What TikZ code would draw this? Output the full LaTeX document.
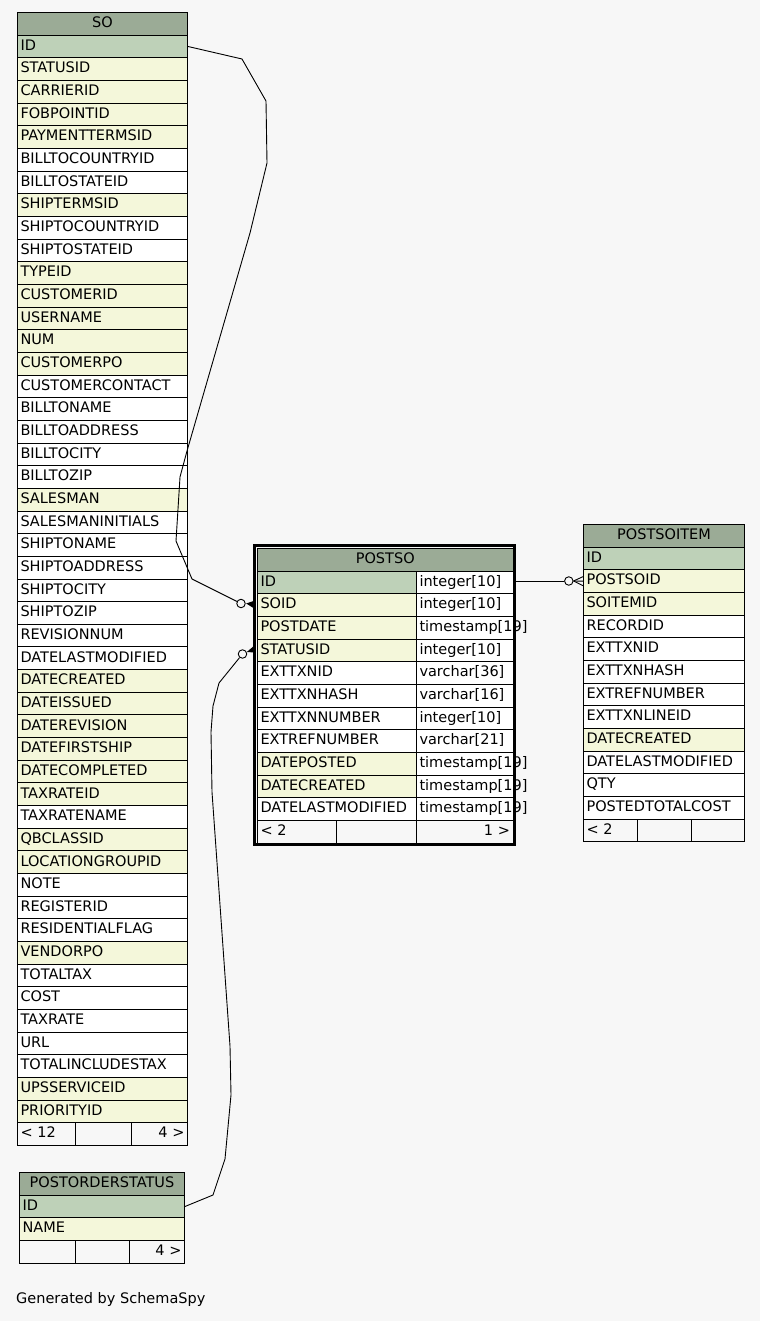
\documentclass[tikz,border=0pt]{standalone}
\usepackage{fontspec}
\usepackage{tikz}
\usetikzlibrary{positioning,arrows.meta,calc}
\newfontfamily\ssfont{DejaVu Sans}
\newcommand{\ssText}{\ssfont\fontsize{14.5}{17}\selectfont}
\definecolor{ssBack}{HTML}{F7F7F7}
\definecolor{ssHead}{HTML}{9BAB96}
\definecolor{ssKey}{HTML}{BED1B8}
\definecolor{ssFk}{HTML}{F4F7DA}
\tikzset{
  sscell/.style={draw=black, line width=1pt, anchor=north west, minimum height=22.66pt,
                 inner xsep=3pt, inner ysep=0pt, text height=10.5pt, text depth=3pt,
                 font=\ssText, align=left},
  sshead/.style={sscell, fill=ssHead, align=center},
  sskey/.style={sscell, fill=ssKey},
  ssfk/.style={sscell, fill=ssFk},
  sscol/.style={sscell, fill=white},
  ssfoot/.style={sscell, fill=ssBack},
  ssrel/.style={draw=black, line width=0.9pt},
  sscirc/.style={circle, draw=black, fill=ssBack, line width=0.9pt, minimum size=8.5pt,
                 inner sep=0pt},
  wso/.style={text width=164pt},
  wpsn/.style={text width=153pt},
  wpst/.style={text width=90.5pt},
  wpi/.style={text width=155pt},
  wpos/.style={text width=159pt},
}

\begin{document}
\begin{tikzpicture}[x=1pt, y=-1pt]
  \fill[ssBack] (0,0) rectangle (760,1321);
  \useasboundingbox (0,0) rectangle (760,1321);

  % SO
  \node[sshead, wso] (so-head) at (17,12) {SO};
  \node[sskey, wso] (so-id) at (17,34.66) {ID};
  \node[ssfk, wso] (so-statusid) at (17,57.32) {STATUSID};
  \node[ssfk, wso] (so-carrierid) at (17,79.98) {CARRIERID};
  \node[ssfk, wso] (so-fobpointid) at (17,102.64) {FOBPOINTID};
  \node[ssfk, wso] (so-paymenttermsid) at (17,125.30) {PAYMENTTERMSID};
  \node[sscol, wso] (so-billtocountryid) at (17,147.96) {BILLTOCOUNTRYID};
  \node[sscol, wso] (so-billtostateid) at (17,170.62) {BILLTOSTATEID};
  \node[ssfk, wso] (so-shiptermsid) at (17,193.28) {SHIPTERMSID};
  \node[sscol, wso] (so-shiptocountryid) at (17,215.94) {SHIPTOCOUNTRYID};
  \node[sscol, wso] (so-shiptostateid) at (17,238.60) {SHIPTOSTATEID};
  \node[ssfk, wso] (so-typeid) at (17,261.26) {TYPEID};
  \node[ssfk, wso] (so-customerid) at (17,283.92) {CUSTOMERID};
  \node[ssfk, wso] (so-username) at (17,306.58) {USERNAME};
  \node[ssfk, wso] (so-num) at (17,329.24) {NUM};
  \node[ssfk, wso] (so-customerpo) at (17,351.90) {CUSTOMERPO};
  \node[sscol, wso] (so-customercontact) at (17,374.56) {CUSTOMERCONTACT};
  \node[sscol, wso] (so-billtoname) at (17,397.22) {BILLTONAME};
  \node[sscol, wso] (so-billtoaddress) at (17,419.88) {BILLTOADDRESS};
  \node[sscol, wso] (so-billtocity) at (17,442.54) {BILLTOCITY};
  \node[sscol, wso] (so-billtozip) at (17,465.20) {BILLTOZIP};
  \node[ssfk, wso] (so-salesman) at (17,487.86) {SALESMAN};
  \node[sscol, wso] (so-salesmaninitials) at (17,510.52) {SALESMANINITIALS};
  \node[sscol, wso] (so-shiptoname) at (17,533.18) {SHIPTONAME};
  \node[sscol, wso] (so-shiptoaddress) at (17,555.84) {SHIPTOADDRESS};
  \node[sscol, wso] (so-shiptocity) at (17,578.50) {SHIPTOCITY};
  \node[sscol, wso] (so-shiptozip) at (17,601.16) {SHIPTOZIP};
  \node[sscol, wso] (so-revisionnum) at (17,623.82) {REVISIONNUM};
  \node[sscol, wso] (so-datelastmodified) at (17,646.48) {DATELASTMODIFIED};
  \node[ssfk, wso] (so-datecreated) at (17,669.14) {DATECREATED};
  \node[ssfk, wso] (so-dateissued) at (17,691.80) {DATEISSUED};
  \node[ssfk, wso] (so-daterevision) at (17,714.46) {DATEREVISION};
  \node[ssfk, wso] (so-datefirstship) at (17,737.12) {DATEFIRSTSHIP};
  \node[ssfk, wso] (so-datecompleted) at (17,759.78) {DATECOMPLETED};
  \node[ssfk, wso] (so-taxrateid) at (17,782.44) {TAXRATEID};
  \node[sscol, wso] (so-taxratename) at (17,805.10) {TAXRATENAME};
  \node[ssfk, wso] (so-qbclassid) at (17,827.76) {QBCLASSID};
  \node[ssfk, wso] (so-locationgroupid) at (17,850.42) {LOCATIONGROUPID};
  \node[sscol, wso] (so-note) at (17,873.08) {NOTE};
  \node[sscol, wso] (so-registerid) at (17,895.74) {REGISTERID};
  \node[sscol, wso] (so-residentialflag) at (17,918.40) {RESIDENTIALFLAG};
  \node[ssfk, wso] (so-vendorpo) at (17,941.06) {VENDORPO};
  \node[sscol, wso] (so-totaltax) at (17,963.72) {TOTALTAX};
  \node[sscol, wso] (so-cost) at (17,986.38) {COST};
  \node[sscol, wso] (so-taxrate) at (17,1009.04) {TAXRATE};
  \node[sscol, wso] (so-url) at (17,1031.70) {URL};
  \node[sscol, wso] (so-totalincludestax) at (17,1054.36) {TOTALINCLUDESTAX};
  \node[ssfk, wso] (so-upsserviceid) at (17,1077.02) {UPSSERVICEID};
  \node[ssfk, wso] (so-priorityid) at (17,1099.68) {PRIORITYID};
  \node[ssfoot, text width=52pt] (so-foot1) at (17,1122.34) {< 12};
  \node[ssfoot, text width=50pt] (so-foot2) at (75,1122.34) {};
  \node[ssfoot, text width=50pt, align=right] (so-foot3) at (131,1122.34) {4 >};

  % POSTSO
  \node[sshead, text width=249.5pt] (ps-head) at (257,548) {POSTSO};
  \node[sskey, wpsn] (ps-id) at (257,570.66) {ID};
  \node[sscol, wpst] (ps-id-t) at (416,570.66) {integer[10]};
  \node[ssfk, wpsn] (ps-soid) at (257,593.32) {SOID};
  \node[sscol, wpst] (ps-soid-t) at (416,593.32) {integer[10]};
  \node[ssfk, wpsn] (ps-postdate) at (257,615.98) {POSTDATE};
  \node[sscol, wpst] (ps-postdate-t) at (416,615.98) {timestamp[19]};
  \node[ssfk, wpsn] (ps-statusid) at (257,638.64) {STATUSID};
  \node[sscol, wpst] (ps-statusid-t) at (416,638.64) {integer[10]};
  \node[sscol, wpsn] (ps-exttxnid) at (257,661.30) {EXTTXNID};
  \node[sscol, wpst] (ps-exttxnid-t) at (416,661.30) {varchar[36]};
  \node[sscol, wpsn] (ps-exttxnhash) at (257,683.96) {EXTTXNHASH};
  \node[sscol, wpst] (ps-exttxnhash-t) at (416,683.96) {varchar[16]};
  \node[sscol, wpsn] (ps-exttxnnumber) at (257,706.62) {EXTTXNNUMBER};
  \node[sscol, wpst] (ps-exttxnnumber-t) at (416,706.62) {integer[10]};
  \node[sscol, wpsn] (ps-extrefnumber) at (257,729.28) {EXTREFNUMBER};
  \node[sscol, wpst] (ps-extrefnumber-t) at (416,729.28) {varchar[21]};
  \node[ssfk, wpsn] (ps-dateposted) at (257,751.94) {DATEPOSTED};
  \node[sscol, wpst] (ps-dateposted-t) at (416,751.94) {timestamp[19]};
  \node[ssfk, wpsn] (ps-datecreated) at (257,774.60) {DATECREATED};
  \node[sscol, wpst] (ps-datecreated-t) at (416,774.60) {timestamp[19]};
  \node[sscol, wpsn] (ps-datelastmodified) at (257,797.26) {DATELASTMODIFIED};
  \node[sscol, wpst] (ps-datelastmodified-t) at (416,797.26) {timestamp[19]};
  \node[ssfoot, text width=73pt] (ps-foot1) at (257,819.92) {< 2};
  \node[ssfoot, text width=74pt] (ps-foot2) at (336,819.92) {};
  \node[ssfoot, wpst, align=right] (ps-foot3) at (416,819.92) {1 >};

  % POSTSOITEM
  \node[sshead, wpi] (pi-head) at (583,524) {POSTSOITEM};
  \node[sskey, wpi] (pi-id) at (583,546.66) {ID};
  \node[ssfk, wpi] (pi-postsoid) at (583,569.32) {POSTSOID};
  \node[ssfk, wpi] (pi-soitemid) at (583,591.98) {SOITEMID};
  \node[sscol, wpi] (pi-recordid) at (583,614.64) {RECORDID};
  \node[sscol, wpi] (pi-exttxnid) at (583,637.30) {EXTTXNID};
  \node[sscol, wpi] (pi-exttxnhash) at (583,659.96) {EXTTXNHASH};
  \node[sscol, wpi] (pi-extrefnumber) at (583,682.62) {EXTREFNUMBER};
  \node[sscol, wpi] (pi-exttxnlineid) at (583,705.28) {EXTTXNLINEID};
  \node[ssfk, wpi] (pi-datecreated) at (583,727.94) {DATECREATED};
  \node[sscol, wpi] (pi-datelastmodified) at (583,750.60) {DATELASTMODIFIED};
  \node[sscol, wpi] (pi-qty) at (583,773.26) {QTY};
  \node[sscol, wpi] (pi-postedtotalcost) at (583,795.92) {POSTEDTOTALCOST};
  \node[ssfoot, text width=48pt] (pi-foot1) at (583,818.58) {< 2};
  \node[ssfoot, text width=48pt] (pi-foot2) at (637,818.58) {};
  \node[ssfoot, text width=47pt] (pi-foot3) at (691,818.58) {};

  % POSTORDERSTATUS
  \node[sshead, wpos] (pos-head) at (19,1172) {POSTORDERSTATUS};
  \node[sskey, wpos] (pos-id) at (19,1194.66) {ID};
  \node[ssfk, wpos] (pos-name) at (19,1217.32) {NAME};
  \node[ssfoot, text width=50pt] (pos-foot1) at (19,1239.98) {};
  \node[ssfoot, text width=48pt] (pos-foot2) at (75,1239.98) {};
  \node[ssfoot, text width=49pt, align=right] (pos-foot3) at (129,1239.98) {4 >};

  % relations
  \node[sscirc] (so-circ) at (241,603.5) {};
  \draw[ssrel] (so-id.east) -- (242,59) -- (266,101) -- (267,163) -- (250,233)
    -- (187,451) -- (180,477) -- (176,541) -- (192,579) -- (so-circ);
  \fill ($(so-circ.east)+(0.5,0)$) -- ($(ps-soid.west)+(-2.5,-4.5)$)
    -- ($(ps-soid.west)+(-2.5,3.5)$) -- cycle;

  \node[sscirc] (st-circ) at (242.5,654) {};
  \draw[ssrel] (pos-id.east) -- (213,1195) -- (225,1159) -- (231,1095) -- (230,1046)
    -- (212,792) -- (211,732) -- (213,706) -- (219,683) -- (st-circ);
  \fill (st-circ.25) -- ($(ps-statusid.west)+(-2.5,-5)$)
    -- ($(ps-statusid.west)+(-2.5,2)$) -- cycle;

  \node[sscirc] (pi-circ) at (568.8,581) {};
  \draw[ssrel] (ps-id-t.east |- pi-circ) -- (pi-circ);
  \draw[ssrel] (pi-circ.east) -- (pi-postsoid.west);
  \draw[ssrel] (pi-circ.east) -- ($(pi-postsoid.west)+(0,-4.5)$);
  \draw[ssrel] (pi-circ.east) -- ($(pi-postsoid.west)+(0,4.5)$);

  % double frame of POSTSO
  \draw[line width=2.3pt] (254.5,545.5) rectangle (514.5,844.5);

  \node[anchor=west, font=\ssText, inner sep=0pt] (gen) at (16,1299) {Generated by SchemaSpy};
\end{tikzpicture}
\end{document}
